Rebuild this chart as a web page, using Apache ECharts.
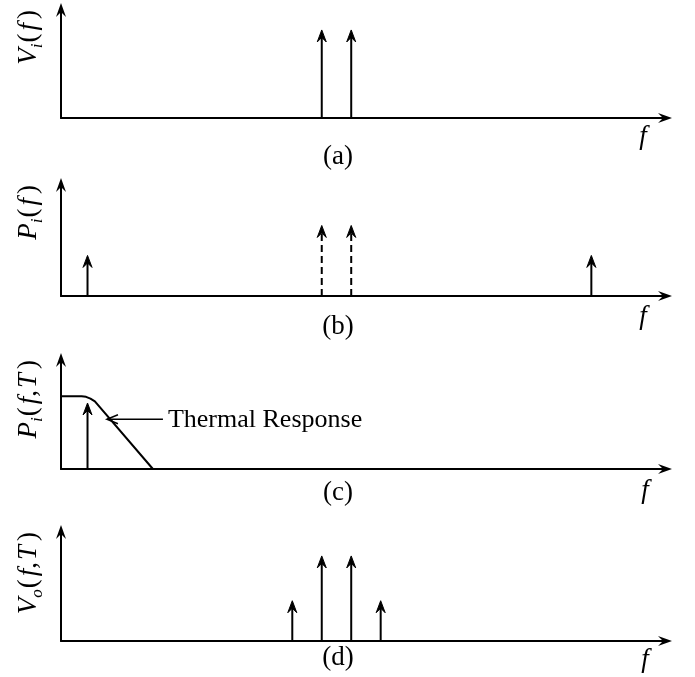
<!DOCTYPE html>
<html>
<head>
<meta charset="utf-8">
<script src="https://cdn.jsdelivr.net/npm/echarts@6/dist/echarts.min.js"></script>
<style>
  html, body { margin: 0; padding: 0; background: #fff; }
  #chart { width: 695px; height: 677px; }
</style>
</head>
<body>
<div id="chart"></div>
<script>
// frequency axis runs 0..xMax, each panel's y from 0 (baseline) to 1 (axis top)
const xMax = 20.5;

// (a) input voltage spectrum
const spikesAx = [8.85, 9.85];
const spikesAh = [0.82, 0.82];

// (b) input power spectrum (dashed ones are the original tones)
const spikesBx = [0.9, 8.85, 9.85, 18.0];
const spikesBh = [0.37, 0.64, 0.64, 0.37];
const spikesBdash = [0, 1, 1, 0];

// (c) power after thermal filtering
const spikesCx = [0.9];
const spikesCh = [0.61];
const thermalX = [0, 0.7, 0.85, 1.0, 1.15, 3.12];
const thermalY = [0.667, 0.667, 0.662, 0.645, 0.62, 0];
const noteText = 'Thermal Response';
const noteFrom = [3.46, 0.457];
const noteTo = [1.56, 0.457];

// (d) output voltage spectrum
const spikesDx = [7.85, 8.85, 9.85, 10.85];
const spikesDh = [0.374, 0.785, 0.785, 0.374];

const panelNames = ['(a)', '(b)', '(c)', '(d)'];
const yNames = [
  '{it|V}{sub|i}{po|(}{it|f}{pc|)}',
  '{it|P}{sub|i}{po|(}{it|f}{pc|)}',
  '{it|P}{sub|i}{po|(}{it|f}{rm|,}{it|T}{pc|)}',
  '{it|V}{sub|o}{po|(}{it|f}{rm|,}{it|T}{pc|)}'
];

const FONT = '"Liberation Serif", "DejaVu Serif", serif';
const arrowPath = 'path://M5,0 L10,14 L5,9 L0,14 Z';

// pixel layout of the four panels (top = grid top, bottom = baseline)
const panelTop = [10, 185, 360, 532];
const panelBase = [118, 296, 469, 641];

const chart = echarts.init(document.getElementById('chart'));

const grids = [], xAxes = [], yAxes = [];
for (let i = 0; i < 4; i++) {
  grids.push({ left: 61, right: 30, top: panelTop[i], height: panelBase[i] - panelTop[i] });
  xAxes.push({
    gridIndex: i, type: 'value', min: 0, max: xMax,
    axisLine: { show: true, lineStyle: { color: '#000', width: 2 }, symbol: ['none', arrowPath], symbolSize: [11, 14] },
    axisTick: { show: false }, axisLabel: { show: false }, splitLine: { show: false }
  });
  yAxes.push({
    gridIndex: i, type: 'value', min: 0, max: 1,
    axisLine: { show: true, onZero: false, lineStyle: { color: '#000', width: 2 }, symbol: ['none', arrowPath], symbolSize: [11, 14] },
    axisTick: { show: false }, axisLabel: { show: false }, splitLine: { show: false }
  });
}

function spikeItem(params, api) {
  const x = api.value(0), h = api.value(1), dashed = api.value(2);
  const b = api.coord([x, 0]);
  const t = api.coord([x, h]);
  return {
    type: 'group',
    children: [
      { type: 'line', shape: { x1: b[0], y1: b[1], x2: t[0], y2: t[1] + 4 },
        style: { stroke: '#000', lineWidth: 2, lineDash: dashed ? [7, 4] : null } },
      { type: 'polygon', shape: { points: [[t[0], t[1] + 0.5], [t[0] + 4.5, t[1] + 12.5], [t[0], t[1] + 8], [t[0] - 4.5, t[1] + 12.5]] },
        style: { fill: '#000', stroke: '#000', lineWidth: 1, lineJoin: 'miter' } }
    ]
  };
}

function spikeSeries(idx, xs, hs, dash) {
  return {
    type: 'custom', xAxisIndex: idx, yAxisIndex: idx, silent: true,
    renderItem: spikeItem,
    data: xs.map((x, k) => [x, hs[k], dash ? dash[k] : 0])
  };
}

const series = [
  spikeSeries(0, spikesAx, spikesAh),
  spikeSeries(1, spikesBx, spikesBh, spikesBdash),
  spikeSeries(2, spikesCx, spikesCh),
  spikeSeries(3, spikesDx, spikesDh),
  {
    type: 'line', xAxisIndex: 2, yAxisIndex: 2, silent: true, symbol: 'none',
    lineStyle: { color: '#000', width: 2 },
    data: thermalX.map((x, k) => [x, thermalY[k]])
  },
  {
    type: 'custom', xAxisIndex: 2, yAxisIndex: 2, silent: true,
    data: [[noteFrom[0], noteFrom[1], noteTo[0], noteTo[1]]],
    renderItem: function (params, api) {
      const a = api.coord([api.value(0), api.value(1)]);
      const b = api.coord([api.value(2), api.value(3)]);
      return {
        type: 'group',
        children: [
          { type: 'line', shape: { x1: a[0], y1: a[1], x2: b[0], y2: b[1] },
            style: { stroke: '#000', lineWidth: 1.5 } },
          { type: 'polyline', shape: { points: [[b[0] + 11, b[1] - 4.5], [b[0], b[1]], [b[0] + 11, b[1] + 4.5]] },
            style: { stroke: '#000', lineWidth: 1.5, fill: null } },
          { type: 'text', x: a[0] + 5, y: a[1] + 1,
            style: { text: noteText, font: '26px ' + FONT, fill: '#000', align: 'left', verticalAlign: 'middle' } }
        ]
      };
    }
  }
];

const graphic = [];
const fX = [643, 643, 645, 645];
const fY = [137, 317, 491, 660];
const capY = [157, 327, 493, 658];
for (let i = 0; i < 4; i++) {
  graphic.push({
    type: 'text', x: 338, y: capY[i],
    style: { text: panelNames[i], font: '27px ' + FONT, fill: '#000', align: 'center', verticalAlign: 'middle' }
  });
  graphic.push({
    type: 'text', x: fX[i], y: fY[i],
    style: { text: 'f', font: 'italic 27px ' + FONT, fill: '#000', align: 'center', verticalAlign: 'middle' }
  });
  graphic.push({
    type: 'text', x: 29, y: panelTop[i], rotation: Math.PI / 2,
    style: {
      text: yNames[i], align: 'right', verticalAlign: 'middle', fill: '#000',
      rich: {
        it: { font: 'italic 27px ' + FONT, fill: '#000' },
        rm: { font: '27px ' + FONT, fill: '#000', padding: [0, 2, 0, 0] },
        po: { font: '27px ' + FONT, fill: '#000', padding: [0, 3, 0, 1] },
        pc: { font: '27px ' + FONT, fill: '#000', padding: [0, 0, 0, 4] },
        sub: { font: 'italic 17px ' + FONT, fill: '#000', padding: [18, 0, 0, 0] }
      }
    }
  });
}

chart.setOption({
  animation: false,
  backgroundColor: '#fff',
  grid: grids,
  xAxis: xAxes,
  yAxis: yAxes,
  series: series,
  graphic: graphic
});
</script>
</body>
</html>
